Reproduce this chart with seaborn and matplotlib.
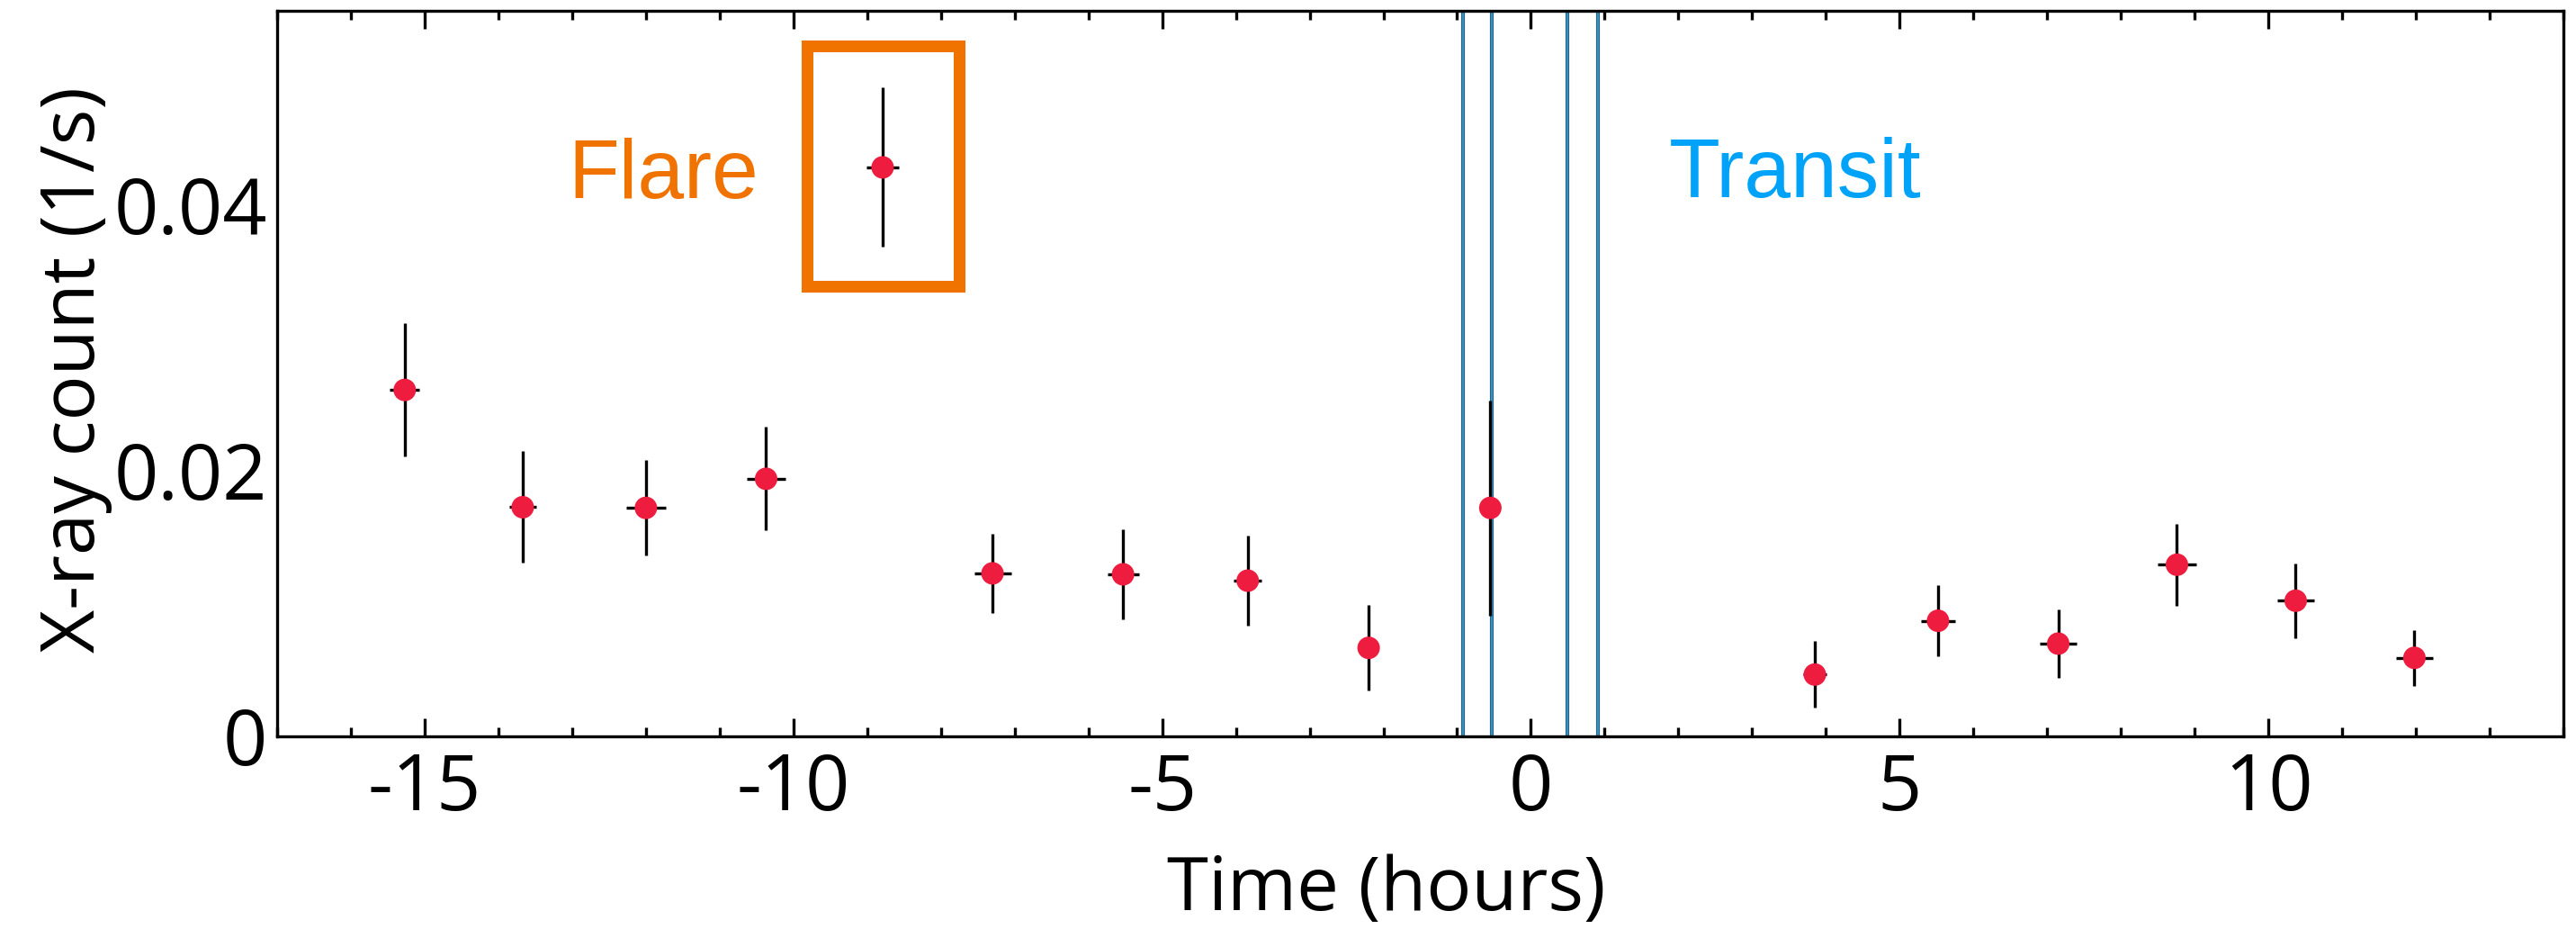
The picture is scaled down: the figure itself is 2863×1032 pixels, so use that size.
import matplotlib
matplotlib.use("Agg")
import matplotlib.pyplot as plt
import matplotlib.patheffects as pe
from matplotlib.patches import Rectangle
from matplotlib.ticker import MultipleLocator, FixedLocator
import numpy as np
import pandas as pd
import seaborn as sns

# ---------------- data ----------------
time_h = [-15.27, -13.67, -12.00, -10.37, -8.79, -7.30, -5.53, -3.84, -2.20, -0.55,
          3.85, 5.52, 7.15, 8.76, 10.37, 11.98]
rate = [0.02605, 0.01722, 0.01717, 0.01936, 0.04281, 0.01224, 0.01217, 0.01169, 0.00663, 0.01717,
        0.00462, 0.00867, 0.00695, 0.01289, 0.01018, 0.00588]
rate_err = [0.0050, 0.0042, 0.0036, 0.0039, 0.0060, 0.0030, 0.0034, 0.0034, 0.0032, 0.0081,
            0.0025, 0.0027, 0.0026, 0.0031, 0.0028, 0.0021]
time_err = [0.20, 0.18, 0.27, 0.26, 0.22, 0.25, 0.215, 0.19, 0.12, 0.12,
            0.16, 0.235, 0.25, 0.26, 0.25, 0.25]
transit_lines = [-0.92, -0.525, 0.50, 0.91]
x_ticks = [-15, -10, -5, 0, 5, 10]
x_tick_labels = ["-15", "-10", "-5", "0", "5", "10"]
y_ticks = [0, 0.02, 0.04]
y_tick_labels = ["0", "0.02", "0.04"]
flare_label = "Flare"
transit_label = "Transit"

df = pd.DataFrame({"time": time_h, "rate": rate, "rate_err": rate_err, "time_err": time_err})

# ---------------- style ----------------
sns.set_theme(style="ticks")
plt.rcParams["font.family"] = ["Open Sans", "DejaVu Sans"]
plt.rcParams["axes.unicode_minus"] = False
plt.rcParams["text.color"] = "black"
plt.rcParams["axes.labelcolor"] = "black"
plt.rcParams["xtick.color"] = "black"
plt.rcParams["ytick.color"] = "black"
plt.rcParams["xtick.labelcolor"] = "black"
plt.rcParams["ytick.labelcolor"] = "black"

fig = plt.figure(figsize=(28.63, 10.32), dpi=100)
ax = fig.add_axes([308 / 2863, 1 - 817.5 / 1032, (2849 - 308) / 2863, (817.5 - 12) / 1032])

# transit lines
for xv in transit_lines:
    ax.axvline(xv, color="#3d8fc2", lw=1.6, zorder=1,
               path_effects=[pe.withStroke(linewidth=3.0, foreground="#22607f")])

# error bars
ax.errorbar(df["time"], df["rate"], yerr=df["rate_err"], xerr=df["time_err"],
            fmt="none", ecolor="black", elinewidth=2.4, capsize=0, zorder=2)

# points
sns.scatterplot(data=df, x="time", y="rate", ax=ax, s=18 ** 2, color="#ee1d3f",
                edgecolor="none", linewidth=0, zorder=3, legend=False)

# flare box and labels
ax.add_patch(Rectangle((-9.82, 0.03389), 2.07, 0.01808, fill=False,
                       edgecolor="#f07300", linewidth=9.4, joinstyle="miter", zorder=4))
ax.text(-13.06, 0.04047, flare_label, color="#f07300", fontsize=67,
        family=["Liberation Sans", "DejaVu Sans"], ha="left", va="baseline")
ax.text(1.866, 0.04056, transit_label, color="#00a3f7", fontsize=67,
        family=["Liberation Sans", "DejaVu Sans"], ha="left", va="baseline")

# axes limits / ticks
ax.set_xlim(-17, 14)
ax.set_ylim(0, 0.0546)
ax.xaxis.set_major_locator(FixedLocator(x_ticks))
ax.set_xticklabels(x_tick_labels)
ax.xaxis.set_minor_locator(MultipleLocator(1))
ax.set_yticks(y_ticks)
ax.set_yticklabels(y_tick_labels)

ax.tick_params(axis="x", which="both", direction="in", top=True, bottom=True,
               width=2.4, color="black", labelcolor="black", labelsize=62, pad=12)
ax.tick_params(axis="x", which="major", length=14.4)
ax.tick_params(axis="x", which="minor", length=7.2)
ax.tick_params(axis="y", which="both", left=False, right=False, length=0,
               labelcolor="black", labelsize=62, pad=8)

for sp in ax.spines.values():
    sp.set_visible(True)
    sp.set_linewidth(2.4)
    sp.set_color("black")

ax.set_xlabel("Time (hours)", fontsize=60, va="baseline", color="black")
ax.xaxis.set_label_coords(0.485, -(1011 - 817.5) / 805.5)
ax.set_ylabel("X-ray count (1/s)", fontsize=60, va="baseline", color="black")
ax.yaxis.set_label_coords((105 - 308) / 2541, 0.505)

fig.savefig("out.png", dpi=100, facecolor="white")
